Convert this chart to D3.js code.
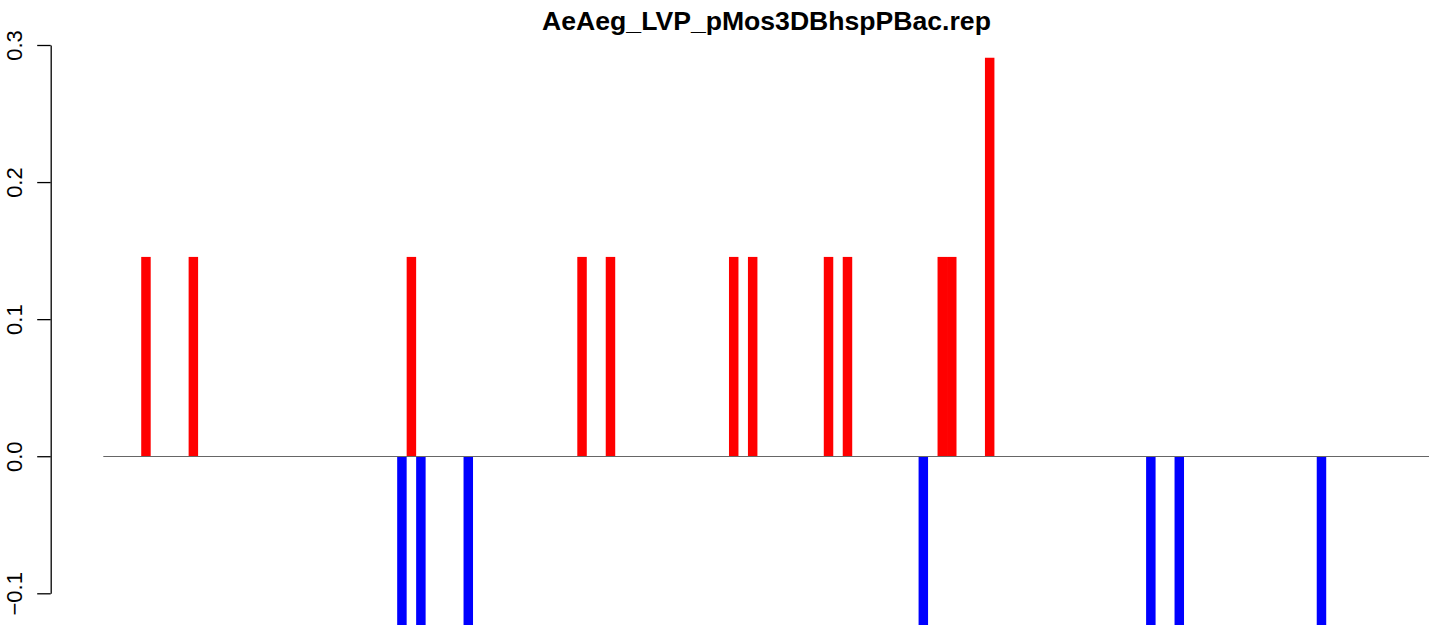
<!DOCTYPE html>
<html>
<head>
<meta charset="utf-8">
<script src="https://cdn.jsdelivr.net/npm/d3@7"></script>
<style>
  html, body { margin: 0; padding: 0; background: #fff; }
  svg { display: block; font-family: "Liberation Sans", Arial, Helvetica, sans-serif; }
</style>
</head>
<body>
<svg id="chart" width="1429" height="625"></svg>
<script>
// ---- data ----
const chartTitle = "AeAeg_LVP_pMos3DBhspPBac.rep";
const positionCount = 140;                 // number of bar slots on the x axis
const barPositions = [4, 9, 31, 32, 33, 38, 50, 53, 66, 68, 76, 78, 86, 88, 89, 93, 110, 113, 128];
const barValues    = [0.1454, 0.1454, -0.1454, 0.1454, -0.1454, -0.1454, 0.1454, 0.1454,
                      0.1454, 0.1454, 0.1454, 0.1454, -0.1454, 0.1454, 0.1454, 0.2907,
                      -0.1454, -0.1454, -0.1454];
const yTicks = [-0.1, 0.0, 0.1, 0.2, 0.3];

// ---- layout ----
const W = 1429, H = 625;
const plotLeft = 103.3, barPitch = 9.48;
const svg = d3.select("#chart");

const categories = d3.range(positionCount);
const x = d3.scaleBand().domain(categories)
  .range([plotLeft, plotLeft + positionCount * barPitch]).padding(0);
const y = d3.scaleLinear().domain([-0.1, 0.3]).range([593.3, 45]);

svg.append("defs").append("clipPath").attr("id", "plotclip")
  .append("rect").attr("x", plotLeft).attr("y", 34).attr("width", W - plotLeft).attr("height", H - 34);

const bars = barPositions.map((p, i) => ({ pos: p, value: barValues[i] }));

svg.append("g").attr("clip-path", "url(#plotclip)")
  .selectAll("rect").data(bars).join("rect")
  .attr("x", d => x(d.pos))
  .attr("width", x.bandwidth())
  .attr("y", d => y(Math.max(0, d.value)))
  .attr("height", d => Math.abs(y(d.value) - y(0)))
  .attr("fill", d => d.value >= 0 ? "#ff0000" : "#0000ff");

// zero line
svg.append("line")
  .attr("x1", plotLeft).attr("x2", W)
  .attr("y1", Math.round(y(0)) + 0.5).attr("y2", Math.round(y(0)) + 0.5)
  .attr("stroke", "#666").attr("stroke-width", 1);

// y axis
const axisG = svg.append("g").attr("transform", "translate(50.7,0)")
  .call(d3.axisLeft(y).tickValues(yTicks).tickSize(13.5).tickSizeOuter(0)
        .tickFormat(d3.format(".1f")));
axisG.select(".domain").attr("stroke", "#000").attr("stroke-width", 1.3);
axisG.selectAll(".tick line").attr("stroke", "#000").attr("stroke-width", 1.3);
axisG.selectAll(".tick text")
  .attr("transform", "rotate(-90)")
  .attr("x", 0).attr("y", -29).attr("dy", null)
  .attr("text-anchor", "middle")
  .attr("fill", "#000")
  .style("font-size", "22px");

// title
svg.append("text")
  .attr("x", 766.5).attr("y", 30)
  .attr("text-anchor", "middle")
  .style("font-weight", "bold").style("font-size", "26.6px")
  .attr("fill", "#000")
  .text(chartTitle);
</script>
</body>
</html>
